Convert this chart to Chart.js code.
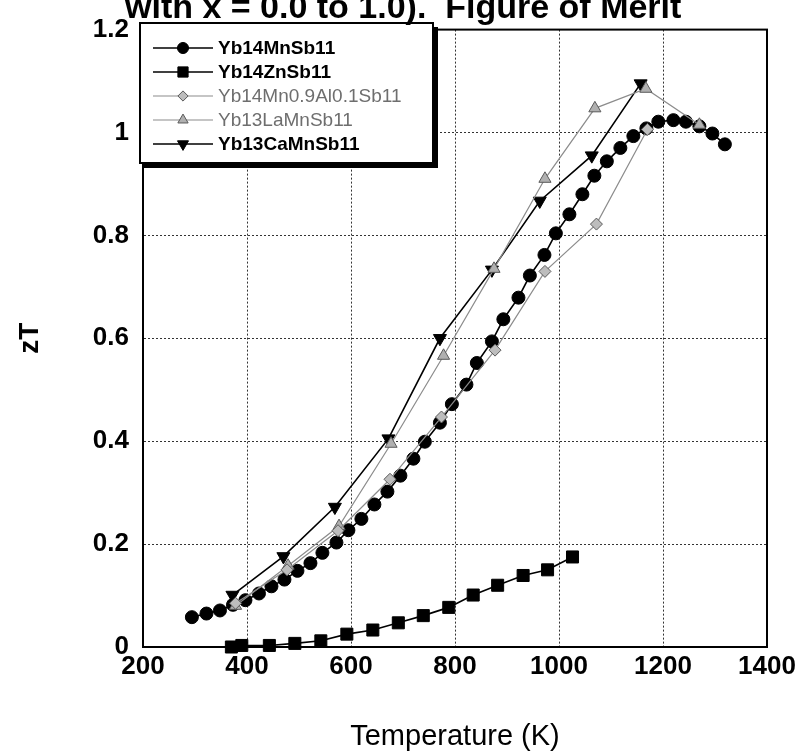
<!DOCTYPE html>
<html>
<head>
<meta charset="utf-8">
<script src="https://cdn.jsdelivr.net/npm/chart.js@4.4.1/dist/chart.umd.min.js"></script>
<style>
  body { margin: 0; background: #fff; }
  #wrap { width: 805px; height: 754px; position: relative; }
</style>
</head>
<body>
<div id="wrap"><canvas id="draw-on-me"></canvas></div>
<script>
'use strict';

// series names, in legend order
const seriesNames = ['Yb14MnSb11', 'Yb14ZnSb11', 'Yb14Mn0.9Al0.1Sb11', 'Yb13LaMnSb11', 'Yb13CaMnSb11'];

// temperatures (K) and zT
const mnT = [294, 322, 348, 373, 397, 423, 447, 472, 497, 522, 545, 572, 595, 620, 645, 670, 695, 720, 742, 771,
  794, 822, 842, 871, 893, 922, 944, 972, 994, 1020, 1045, 1068, 1092, 1118, 1143, 1168, 1191, 1220, 1244, 1270, 1295, 1319];
const mnZT = [0.058, 0.065, 0.071, 0.082, 0.091, 0.104, 0.118, 0.131, 0.148, 0.163, 0.183, 0.203, 0.227, 0.249, 0.277, 0.302, 0.333, 0.366, 0.399, 0.436,
  0.472, 0.51, 0.552, 0.594, 0.637, 0.679, 0.722, 0.762, 0.804, 0.841, 0.88, 0.916, 0.944, 0.97, 0.993, 1.008, 1.021, 1.024, 1.021, 1.012, 0.998, 0.977];

const znT = [370, 390, 443, 492, 542, 592, 642, 691, 739, 788, 835, 882, 931, 978, 1026];
const znZT = [0, 0.003, 0.003, 0.007, 0.012, 0.025, 0.033, 0.047, 0.061, 0.077, 0.101, 0.12, 0.139, 0.15, 0.175];

const alT = [378, 477, 575, 675, 774, 877, 973, 1072, 1170];
const alZT = [0.085, 0.15, 0.226, 0.326, 0.447, 0.577, 0.73, 0.822, 1.006];

const laT = [378, 479, 577, 677, 778, 875, 973, 1069, 1167, 1270];
const laZT = [0.08, 0.158, 0.235, 0.395, 0.566, 0.735, 0.91, 1.047, 1.085, 1.015];

const caT = [372, 470, 569, 672, 771, 871, 963, 1063, 1157];
const caZT = [0.101, 0.176, 0.272, 0.405, 0.6, 0.733, 0.867, 0.955, 1.095];

const xTicks = [200, 400, 600, 800, 1000, 1200, 1400];
const yTicks = [0, 0.2, 0.4, 0.6, 0.8, 1, 1.2];

const titleText = 'with x = 0.0 to 1.0).  Figure of Merit';

function pairs(xs, ys) {
  return xs.map((x, i) => ({ x: x, y: ys[i] }));
}

const black = '#000';
const grey = '#8c8c8c';

let datasets = [
  { label: seriesNames[0], data: pairs(mnT, mnZT), borderColor: black, borderWidth: 1.6,
    pointStyle: 'circle', pointRadius: 6.5, pointBackgroundColor: black, pointBorderColor: black, pointBorderWidth: 1, order: 2 },
  { label: seriesNames[1], data: pairs(znT, znZT), borderColor: black, borderWidth: 1.6,
    pointStyle: 'rect', pointRadius: 8.5, pointBackgroundColor: black, pointBorderColor: black, pointBorderWidth: 1, order: 4 },
  { label: seriesNames[2], data: pairs(alT, alZT), borderColor: grey, borderWidth: 1.2,
    pointStyle: 'rectRot', pointRadius: 6, pointBackgroundColor: '#bdbdbd', pointBorderColor: '#5a5a5a', pointBorderWidth: 1, order: 0 },
  { label: seriesNames[3], data: pairs(laT, laZT), borderColor: grey, borderWidth: 1.2,
    pointStyle: 'triangle', pointRadius: 7, pointBackgroundColor: '#b0b0b0', pointBorderColor: '#5a5a5a', pointBorderWidth: 1, order: 1 },
  { label: seriesNames[4], data: pairs(caT, caZT), borderColor: black, borderWidth: 1.6,
    pointStyle: 'triangle', pointRotation: 180, pointRadius: 7.5, pointBackgroundColor: black, pointBorderColor: black, pointBorderWidth: 1, order: 3 }
];
datasets.forEach(ds => { ds.clip = false; ds.tension = 0; ds.fill = false; });

// solid frame round the plot area
const framePlugin = {
  id: 'frame',
  afterDatasetsDraw(chart) {
    const { ctx, chartArea: a } = chart;
    ctx.save();
    ctx.strokeStyle = black;
    ctx.lineWidth = 2;
    ctx.strokeRect(a.left, a.top, a.right - a.left, a.bottom - a.top);
    ctx.restore();
  }
};

// cut-off title at the top
const titlePlugin = {
  id: 'cutTitle',
  afterDraw(chart) {
    const ctx = chart.ctx;
    ctx.save();
    ctx.font = 'bold 34px Arial, "Liberation Sans", sans-serif';
    ctx.fillStyle = black;
    ctx.textBaseline = 'alphabetic';
    ctx.fillText(titleText, 125, 18);
    ctx.restore();
  }
};

// boxed legend with line + marker samples, top left inside the plot
const legendPlugin = {
  id: 'boxLegend',
  afterDraw(chart) {
    const ctx = chart.ctx;
    const left = 140, top = 23, right = 433, bottom = 163;
    ctx.save();
    ctx.fillStyle = '#fff';
    ctx.fillRect(left, top, right - left, bottom - top);
    ctx.fillStyle = black;
    ctx.fillRect(right - 1, top + 4, 6, bottom - top + 1);   // shadow right
    ctx.fillRect(left + 4, bottom - 1, right - left + 1, 6); // shadow bottom
    ctx.strokeStyle = black;
    ctx.lineWidth = 2;
    ctx.strokeRect(left, top, right - left, bottom - top);

    chart.data.datasets.forEach((ds, i) => {
      const y = 48 + i * 24;
      ctx.strokeStyle = ds.borderColor;
      ctx.lineWidth = ds.borderWidth;
      ctx.beginPath();
      ctx.moveTo(153, y);
      ctx.lineTo(213, y);
      ctx.stroke();
      ctx.fillStyle = ds.pointBackgroundColor;
      ctx.strokeStyle = ds.pointBorderColor;
      ctx.lineWidth = 1;
      Chart.helpers.drawPoint(ctx, {
        pointStyle: ds.pointStyle,
        radius: ds.pointRadius * 0.85,
        rotation: ds.pointRotation || 0,
        borderWidth: 1
      }, 183, y);
      const isGrey = ds.borderColor === grey;
      ctx.font = (isGrey ? '' : 'bold ') + '19px Arial, "Liberation Sans", sans-serif';
      ctx.fillStyle = isGrey ? '#6e6e6e' : black;
      ctx.textBaseline = 'middle';
      ctx.fillText(seriesNames[i], 218, y + 1);
    });
    ctx.restore();
  }
};

const tickFont = { family: 'Arial, "Liberation Sans", sans-serif', size: 26, weight: 'bold' };

let myChart = {
  type: 'line',
  data: { datasets: datasets },
  options: {
    responsive: true,
    maintainAspectRatio: false,
    animation: false,
    layout: { padding: { top: 21, right: 38, left: 0, bottom: 0 } },
    plugins: { legend: { display: false }, tooltip: { enabled: false }, title: { display: false } },
    scales: {
      x: {
        type: 'linear',
        min: 200,
        max: 1400,
        afterBuildTicks(scale) { scale.ticks = xTicks.map(v => ({ value: v })); },
        afterFit(scale) { scale.height = 107; },
        ticks: { color: black, font: tickFont, padding: 4, maxRotation: 0, autoSkip: false,
          callback: v => String(v) },
        grid: { color: '#333', lineWidth: 1, drawTicks: false },
        border: { display: true, color: black, width: 2, dash: [2, 2] },
        title: {
          display: true,
          text: 'Temperature (K)',
          color: black,
          font: { family: 'Arial, "Liberation Sans", sans-serif', size: 29, weight: 'normal' },
          padding: { top: 0, bottom: 0 }
        }
      },
      y: {
        type: 'linear',
        min: 0,
        max: 1.2,
        afterBuildTicks(scale) { scale.ticks = yTicks.map(v => ({ value: v })); },
        afterFit(scale) { scale.width = 143; },
        ticks: { color: black, font: tickFont, padding: 14,
          callback: v => String(Math.round(v * 10) / 10) },
        grid: { color: '#333', lineWidth: 1, drawTicks: false },
        border: { display: true, color: black, width: 2, dash: [2, 2] },
        title: {
          display: true,
          text: 'zT',
          color: black,
          font: { family: 'Arial, "Liberation Sans", sans-serif', size: 28, weight: 'bold' },
          padding: { top: 13, bottom: 0 }
        }
      }
    }
  },
  plugins: [framePlugin, legendPlugin, titlePlugin]
};

let canvasElement = document.getElementById('draw-on-me').getContext('2d');
new Chart(canvasElement, myChart);
</script>
</body>
</html>
